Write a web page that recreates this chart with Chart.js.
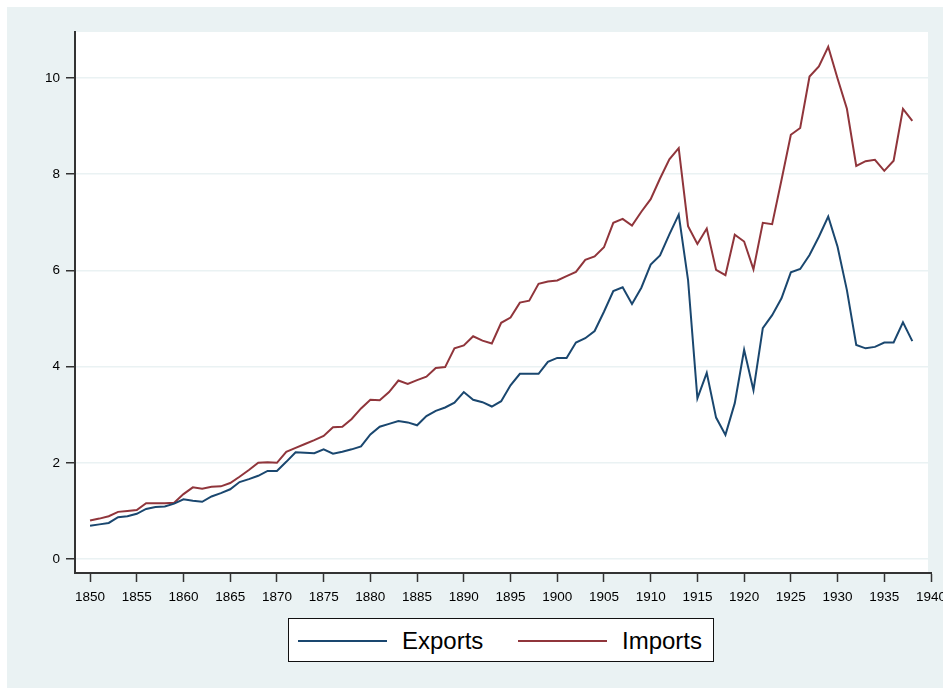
<!DOCTYPE html>
<html>
<head>
<meta charset="utf-8">
<script src="https://cdn.jsdelivr.net/npm/chart.js@4.4.1/dist/chart.umd.min.js"></script>
<style>
  body { margin: 0; background: #fff; width: 943px; height: 688px; overflow: hidden; position: relative; font-family: Arial, "Liberation Sans", sans-serif; }
  #bg { position: absolute; left: 7px; top: 7px; right: 0; bottom: 0; background: #eaf2f3; }
  #chart { position: absolute; left: 0; top: 0; }
  #legend { position: absolute; left: 288px; top: 618px; width: 424px; height: 42px; border: 1px solid #111; background: #fff; }
  .swatch { position: absolute; top: 21px; width: 89px; height: 2px; }
  .lab { position: absolute; top: 10px; font-size: 24px; line-height: 24px; color: #000; white-space: nowrap; }
</style>
</head>
<body>
<div id="bg"></div>
<canvas id="chart" width="943" height="688"></canvas>
<div id="legend"></div>
<script>
// =====================
// DATA
// =====================
const years = [];
for (let y = 1850; y <= 1938; y++) years.push(y);

const exportsVals = [
  0.69, 0.72, 0.75, 0.87, 0.89, 0.94, 1.04, 1.08, 1.09, 1.15,
  1.24, 1.21, 1.19, 1.30, 1.37, 1.45, 1.60, 1.66, 1.73, 1.83,
  1.83, 2.02, 2.22, 2.21, 2.20, 2.28, 2.19, 2.23, 2.28, 2.34,
  2.59, 2.75, 2.81, 2.87, 2.84, 2.78, 2.97, 3.08, 3.15, 3.25,
  3.47, 3.31, 3.26, 3.17, 3.28, 3.61, 3.85, 3.85, 3.85, 4.10,
  4.18, 4.18, 4.50, 4.59, 4.74, 5.14, 5.57, 5.65, 5.30, 5.64,
  6.12, 6.31, 6.75, 7.16, 5.80, 3.34, 3.87, 2.94, 2.58, 3.24,
  4.35, 3.51, 4.80, 5.07, 5.42, 5.96, 6.03, 6.32, 6.70, 7.12,
  6.49, 5.59, 4.45, 4.38, 4.41, 4.50, 4.50, 4.92, 4.53
];

const importsVals = [
  0.80, 0.84, 0.89, 0.98, 1.00, 1.02, 1.16, 1.16, 1.16, 1.17,
  1.35, 1.49, 1.46, 1.50, 1.51, 1.58, 1.71, 1.85, 2.00, 2.01,
  2.00, 2.23, 2.31, 2.39, 2.47, 2.56, 2.74, 2.75, 2.91, 3.13,
  3.31, 3.30, 3.47, 3.71, 3.64, 3.72, 3.79, 3.97, 3.99, 4.38,
  4.44, 4.63, 4.54, 4.48, 4.91, 5.02, 5.33, 5.37, 5.72, 5.77,
  5.79, 5.88, 5.97, 6.22, 6.29, 6.48, 6.99, 7.07, 6.93, 7.22,
  7.48, 7.91, 8.31, 8.54, 6.92, 6.55, 6.87, 6.01, 5.90, 6.74,
  6.60, 6.02, 6.99, 6.96, 7.88, 8.82, 8.96, 10.03, 10.24, 10.65,
  9.99, 9.36, 8.17, 8.27, 8.30, 8.07, 8.28, 9.36, 9.11
];

const xTicks = [1850, 1855, 1860, 1865, 1870, 1875, 1880, 1885, 1890,
  1895, 1900, 1905, 1910, 1915, 1920, 1925, 1930, 1935, 1940];
const yTicks = [0, 2, 4, 6, 8, 10];

const seriesNames = ["Exports", "Imports"];
const seriesColors = ["#1a476f", "#90353b"];

// =====================
// CHART
// =====================
const plotBg = {
  id: "plotBg",
  beforeDraw(chart) {
    const a = chart.chartArea;
    const ctx = chart.ctx;
    ctx.save();
    ctx.fillStyle = "#ffffff";
    ctx.fillRect(a.left, a.top, a.right - a.left - 3, a.bottom - a.top);
    ctx.restore();
  }
};

const toPoints = vals => vals.map((v, i) => ({ x: years[i], y: v }));

new Chart(document.getElementById("chart"), {
  type: "line",
  data: {
    datasets: [
      { label: seriesNames[0], data: toPoints(exportsVals), borderColor: seriesColors[0], borderWidth: 2, pointRadius: 0, tension: 0 },
      { label: seriesNames[1], data: toPoints(importsVals), borderColor: seriesColors[1], borderWidth: 2, pointRadius: 0, tension: 0 }
    ]
  },
  options: {
    responsive: false,
    animation: false,
    devicePixelRatio: 1,
    layout: { padding: { left: 0, top: 32, right: 12, bottom: 0 } },
    plugins: { legend: { display: false }, tooltip: { enabled: false } },
    scales: {
      x: {
        type: "linear",
        min: 1848.39,
        max: 1940,
        afterBuildTicks: s => { s.ticks = xTicks.map(v => ({ value: v })); },
        afterFit: s => { s.height = 115; s.paddingLeft = 0; s.paddingRight = 0; },
        grid: { drawOnChartArea: false, tickLength: 9, tickColor: "#333", tickWidth: 1.5 },
        border: { color: "#333", width: 2 },
        ticks: { padding: 7, color: "#000", maxRotation: 0, autoSkip: false,
          font: { family: "Arial, 'Liberation Sans', sans-serif", size: 13.5 },
          callback: v => String(v) }
      },
      y: {
        min: -0.291,
        max: 10.956,
        afterBuildTicks: s => { s.ticks = yTicks.map(v => ({ value: v })); },
        afterFit: s => { s.width = 75; s.paddingTop = 0; s.paddingBottom = 0; },
        grid: { color: "#eaf2f3", lineWidth: 1.5, tickLength: 9, tickColor: "#333", tickWidth: 1.5 },
        border: { color: "#333", width: 2 },
        ticks: { padding: 6, color: "#000",
          font: { family: "Arial, 'Liberation Sans', sans-serif", size: 13.5 } }
      }
    }
  },
  plugins: [plotBg]
});

// =====================
// LEGEND
// =====================
const legend = document.getElementById("legend");
const swatchLeft = [9, 229];
const labelLeft = [113, 333];
seriesNames.forEach((name, i) => {
  const sw = document.createElement("div");
  sw.className = "swatch";
  sw.style.left = swatchLeft[i] + "px";
  sw.style.background = seriesColors[i];
  legend.appendChild(sw);
  const lb = document.createElement("div");
  lb.className = "lab";
  lb.style.left = labelLeft[i] + "px";
  lb.textContent = name;
  legend.appendChild(lb);
});
</script>
</body>
</html>
